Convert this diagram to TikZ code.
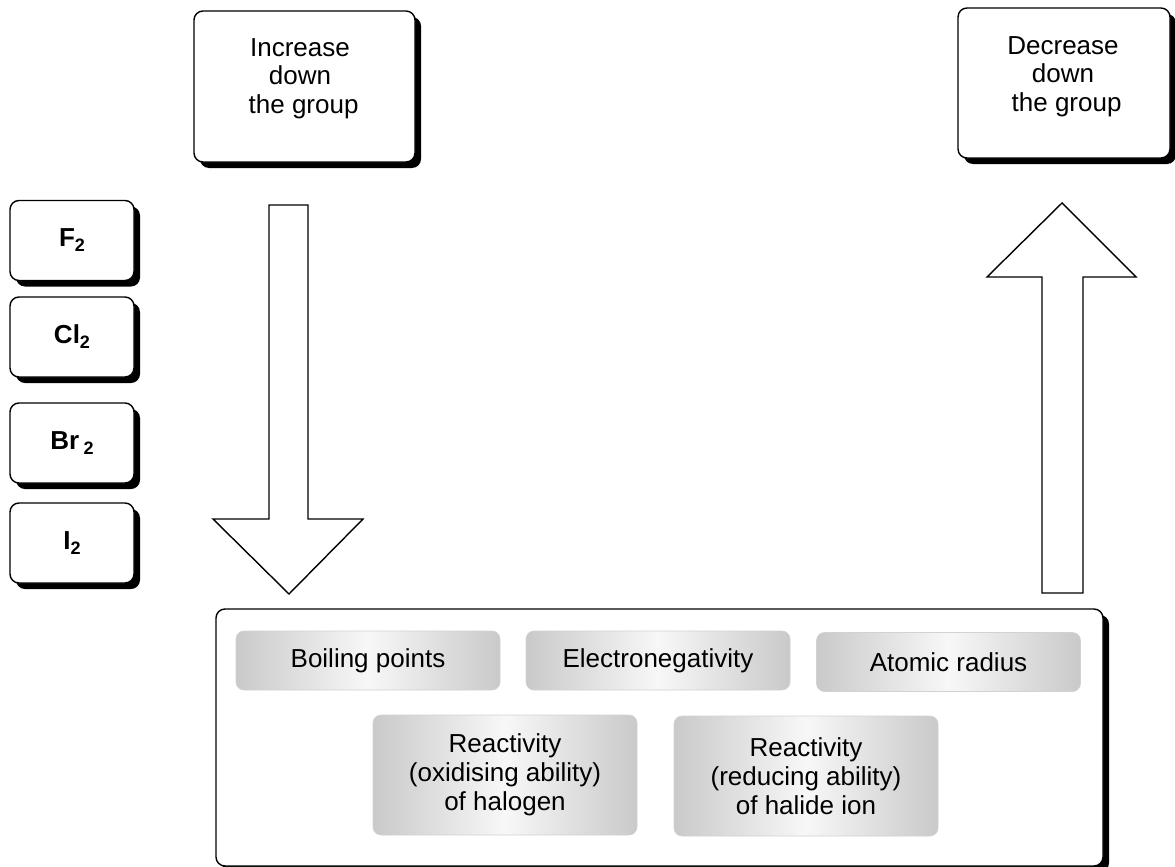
\documentclass[tikz,border=0pt]{standalone}
\usepackage{fontspec}
\setmainfont{Liberation Sans}
\usetikzlibrary{shadows}
\newcommand\lowsub[1]{\raisebox{-5pt}{\fontsize{18}{18}\selectfont #1}}
\begin{document}
\begin{tikzpicture}[x=1pt,y=-1pt,
  box/.style={draw=black, line width=1.4pt, fill=white, rounded corners=9pt, inner sep=0pt,
    drop shadow={shadow xshift=6pt, shadow yshift=-6pt, fill=black, opacity=1}},
  elem/.style={box, minimum width=124pt, minimum height=80pt, font=\bfseries\fontsize{26}{28}\selectfont},
  toptext/.style={anchor=north, inner sep=0pt, align=center, font=\fontsize{26}{28.5}\selectfont},
  graybox/.style={draw=gray!35, line width=0.6pt, rounded corners=8pt, left color=gray!42,
    right color=gray!42, middle color=gray!6, minimum width=264pt, align=center,
    font=\fontsize{26}{29}\selectfont, inner sep=0pt},
  blockarrow/.style={draw=black, line width=1.4pt, fill=white, line join=miter}]
\useasboundingbox (0,0) rectangle (1175,867);

% top boxes
\node[box, minimum width=221pt, minimum height=151pt] (inc) at (304.5,86.5) {};
\node[toptext] (inctext) at (300,38) {Increase\\down\\\ the group};
\node[box, minimum width=212pt, minimum height=150pt] (dec) at (1064,83) {};
\node[toptext] (dectext) at (1063,36) {Decrease\\down\\\ the group};

% element boxes
\node[elem] (f2) at (72,240.5) {F\lowsub{2}};
\node[elem] (cl2) at (72,337) {Cl\lowsub{2}};
\node[elem] (br2) at (72,443) {Br\,\lowsub{2}};
\node[elem] (i2) at (72,543) {I\lowsub{2}};

% block arrows
\coordinate (downtip) at (289,594);
\draw[blockarrow] (269,205) -- (308,205) -- (308,519) -- (363,519) -- (downtip) -- (213,519) -- (269,519) -- cycle;
\coordinate (uptip) at (1062,203);
\draw[blockarrow] (1042,593) -- (1042,277) -- (987,277) -- (uptip) -- (1136,277) -- (1083,277) -- (1083,593) -- cycle;

% container
\node[box, minimum width=887pt, minimum height=257pt] (cont) at (659.5,737.5) {};

% gray property boxes
\node[graybox, minimum height=59pt] (bp) at (368,660.5) {Boiling points};
\node[graybox, minimum height=59pt] (en) at (658,660.5) {Electronegativity};
\node[graybox, minimum height=59pt] (ar) at (948.5,662) {Atomic radius};
\node[graybox, minimum height=120pt] (ox) at (505,775) {Reactivity\\(oxidising ability)\\of halogen};
\node[graybox, minimum height=120pt] (red) at (806,776) {Reactivity\\(reducing ability)\\of halide ion};
\end{tikzpicture}
\end{document}
